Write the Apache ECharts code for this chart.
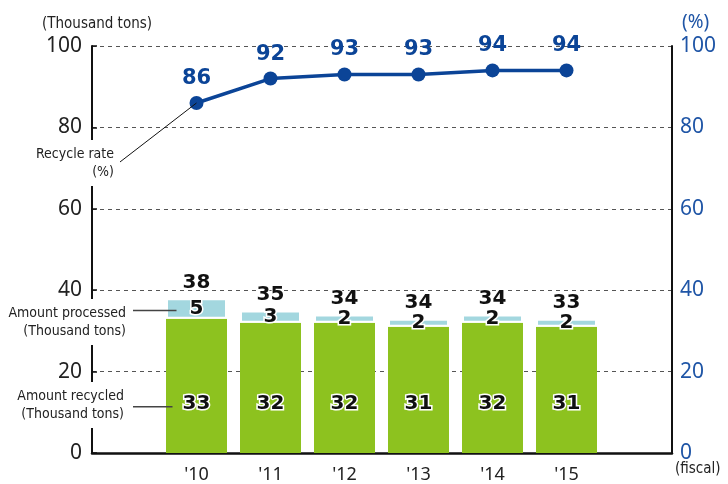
<!DOCTYPE html>
<html>
<head>
<meta charset="utf-8">
<script src="https://cdn.jsdelivr.net/npm/echarts@6/dist/echarts.min.js"></script>
<style>
  html, body { margin: 0; padding: 0; background: #fff; }
  #chart { width: 728px; height: 484px; }
</style>
</head>
<body>
<div id="chart"></div>
<script>
// data
const years = ["'10", "'11", "'12", "'13", "'14", "'15"];
const recycled = [33, 32, 32, 31, 32, 31];      // green part
const unrecycled = [5, 3, 2, 2, 2, 2];          // light blue part
const processedTotal = [38, 35, 34, 34, 34, 33]; // label on top
const recycleRate = [86, 92, 93, 93, 94, 94];   // %, right axis
const leftTicks = [0, 20, 40, 60, 80, 100];

const numFont = "'DejaVu Sans', sans-serif";
const txtFont = "'Noto Sans', sans-serif";
const narrowFont = "'Liberation Sans Narrow', 'DejaVu Sans Condensed', sans-serif";
const navy = '#0b4497';
const blueText = '#1f55a6';

const chart = echarts.init(document.getElementById('chart'));

// grid 0: frame, axes and dashed lines; grid 1: the bars and the line
const frame = { left: 92, right: 56, top: 46, bottom: 31 };
const plot = { left: 159.5, right: 124.5, top: 46, bottom: 31 };

const numLabel = {
  color: '#111',
  fontSize: 20,
  fontWeight: 'bold',
  fontFamily: numFont,
  textBorderColor: '#fff',
  textBorderWidth: 3
};

const option = {
  animation: false,
  grid: [frame, plot],
  xAxis: [
    {
      gridIndex: 0,
      type: 'value',
      min: 0,
      max: 1,
      splitLine: { show: false },
      axisTick: { show: false },
      axisLabel: { show: false },
      axisLine: { onZero: false, lineStyle: { color: '#111', width: 2.5 } }
    },
    {
      gridIndex: 1,
      type: 'category',
      data: years,
      axisLine: { show: false },
      axisTick: { show: false },
      axisLabel: { color: '#222', fontSize: 18, fontFamily: txtFont, margin: 13 }
    }
  ],
  yAxis: [
    {
      gridIndex: 0,
      type: 'value',
      min: leftTicks[0],
      max: leftTicks[leftTicks.length - 1],
      interval: 20,
      name: '(Thousand tons)',
      nameGap: 14,
      nameTextStyle: { color: '#222', fontSize: 15, fontFamily: narrowFont, align: 'center', padding: [0, 0, 0, 10] },
      axisLine: { show: true, onZero: false, lineStyle: { color: '#111', width: 2 } },
      axisTick: { show: true, inside: true, length: 5, lineStyle: { color: '#111', width: 1.5 } },
      axisLabel: { color: '#222', fontSize: 21, fontFamily: txtFont, margin: 10 },
      splitLine: { lineStyle: { color: '#555', type: [4, 4], width: 1 } }
    },
    {
      gridIndex: 0,
      type: 'value',
      position: 'right',
      min: 0,
      max: 100,
      interval: 20,
      name: '(%)',
      nameGap: 14,
      nameTextStyle: { color: blueText, fontSize: 19, fontFamily: txtFont, align: 'left', padding: [0, 0, 0, 10] },
      axisLine: { show: true, onZero: false, lineStyle: { color: '#111', width: 2 } },
      axisTick: { show: false },
      axisLabel: { color: blueText, fontSize: 21, fontFamily: txtFont, margin: 8 },
      splitLine: { show: false }
    },
    {
      gridIndex: 1,
      type: 'value',
      min: 0,
      max: 100,
      show: false
    }
  ],
  series: [
    {
      name: 'Amount recycled',
      type: 'bar',
      xAxisIndex: 1,
      yAxisIndex: 2,
      stack: 'amount',
      barWidth: 61,
      itemStyle: { color: '#8dc21f' },
      label: Object.assign({ show: true, position: 'insideBottom', distance: 39 }, numLabel),
      data: recycled
    },
    {
      name: 'Amount processed',
      type: 'bar',
      xAxisIndex: 1,
      yAxisIndex: 2,
      stack: 'amount',
      itemStyle: { color: '#a3d7df', borderColor: '#fff', borderWidth: 2 },
      label: Object.assign({ show: true, position: 'inside' }, numLabel),
      data: unrecycled
    },
    {
      name: 'total',
      type: 'bar',
      xAxisIndex: 1,
      yAxisIndex: 2,
      stack: 'amount',
      itemStyle: { color: 'transparent' },
      label: Object.assign({}, numLabel, {
        show: true,
        position: 'top',
        distance: 6,
        textBorderWidth: 2,
        formatter: (p) => processedTotal[p.dataIndex]
      }),
      data: years.map(() => 0)
    },
    {
      name: 'Recycle rate',
      type: 'line',
      xAxisIndex: 1,
      yAxisIndex: 2,
      symbol: 'circle',
      symbolSize: 14,
      z: 5,
      lineStyle: { color: navy, width: 3.5 },
      itemStyle: { color: navy },
      label: {
        show: true,
        position: 'top',
        distance: 7,
        color: navy,
        fontSize: 21,
        fontWeight: 'bold',
        fontFamily: numFont
      },
      data: recycleRate
    }
  ]
};

chart.setOption(option);

// annotations, anchored to the first category through the chart's own scales
const ratePt = chart.convertToPixel({ seriesIndex: 3 }, [0, recycleRate[0]]);
const procPt = chart.convertToPixel({ seriesIndex: 1 }, [0, recycled[0] + unrecycled[0] / 2]);
const recPt = chart.convertToPixel({ seriesIndex: 0 }, [0, recycled[0] / 2]);
const barLeft = ratePt[0] - 30;
const annoText = {
  fill: '#222', fontSize: 14, fontFamily: narrowFont, align: 'right', lineHeight: 18,
  backgroundColor: '#fff', padding: [5, 0, 5, 0]
};

chart.setOption({
  graphic: [
    {
      type: 'line',
      z: 100,
      shape: { x1: 120, y1: ratePt[1] + 59, x2: ratePt[0], y2: ratePt[1] },
      style: { stroke: '#111', lineWidth: 1 }
    },
    {
      type: 'text',
      z: 100,
      x: 114, y: 140,
      style: Object.assign({ text: 'Recycle rate\n(%)' }, annoText)
    },
    {
      type: 'line',
      z: 100,
      shape: { x1: 133, y1: procPt[1] + 2, x2: barLeft + 10, y2: procPt[1] + 2 },
      style: { stroke: '#444', lineWidth: 1.5 }
    },
    {
      type: 'text',
      z: 100,
      x: 126, y: 299,
      style: Object.assign({ text: 'Amount processed\n(Thousand tons)' }, annoText)
    },
    {
      type: 'line',
      z: 100,
      shape: { x1: 133, y1: recPt[1] + 21, x2: barLeft + 6, y2: recPt[1] + 21 },
      style: { stroke: '#444', lineWidth: 1.5 }
    },
    {
      type: 'text',
      z: 100,
      x: 124, y: 382,
      style: Object.assign({ text: 'Amount recycled\n(Thousand tons)' }, annoText)
    },
    {
      type: 'text',
      z: 100,
      x: 675, y: 462,
      style: { text: '(fiscal)', fill: '#222', fontSize: 15, fontFamily: narrowFont }
    }
  ]
});
</script>
</body>
</html>
